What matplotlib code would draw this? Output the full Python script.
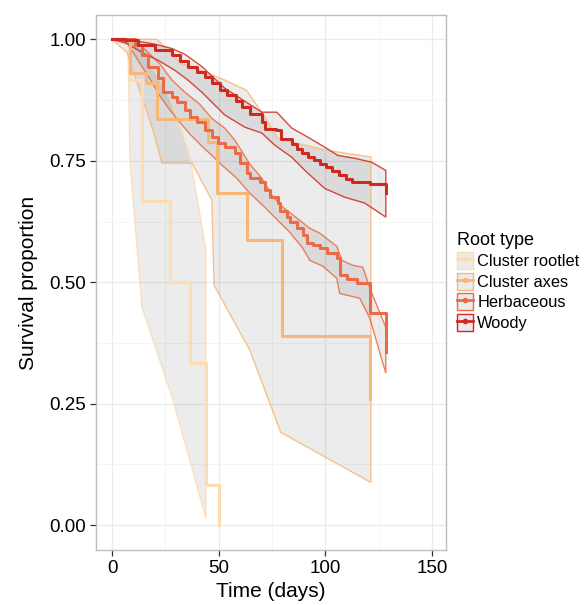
import matplotlib
matplotlib.use("Agg")
import matplotlib.pyplot as plt
from matplotlib.patches import Patch, Polygon
from matplotlib.lines import Line2D

plt.rcParams['font.family'] = ['Liberation Sans', 'DejaVu Sans']

# ---------------- data ----------------
groups = ["Cluster rootlet", "Cluster axes", "Herbaceous", "Woody"]
colors = ["#FDDCB4", "#F7B877", "#EC6A44", "#CF2A1F"]

# Kaplan-Meier estimates
rootlet_t = [0, 8.4, 14.0, 27.2, 36.5, 44.0, 50.1]
rootlet_s = [1.0, 0.917, 0.667, 0.5, 0.333, 0.083, 0.0]
axes_t = [0, 8.4, 15.9, 21.0, 45.0, 49.0, 63.2, 79.6, 121.0]
axes_s = [1.0, 0.93, 0.91, 0.837, 0.788, 0.683, 0.586, 0.389, 0.259]
herb_t = [0, 10.8, 14.0, 16.9, 21.5, 23.9, 28.1, 30.4, 34.2, 36.5, 39.8, 43.5,
          46.8, 49.6, 52.9, 57.6, 59.9, 63.2, 64.6, 69.3, 71.6, 74.0, 77.7, 78.7,
          81.9, 83.3, 86.6, 89.4, 91.3, 94.1, 97.4, 100.7, 105.3, 106.7, 110.0,
          114.7, 120.8, 128.3]
herb_s = [1.0, 0.988, 0.967, 0.942, 0.92, 0.891, 0.881, 0.87, 0.854, 0.84, 0.829,
          0.813, 0.798, 0.786, 0.778, 0.765, 0.745, 0.724, 0.714, 0.706, 0.689,
          0.675, 0.663, 0.646, 0.634, 0.623, 0.611, 0.597, 0.58, 0.576, 0.57,
          0.56, 0.549, 0.514, 0.506, 0.498, 0.436, 0.356]
woody_t = [0, 6.1, 12.2, 20.1, 28.1, 32.0, 35.6, 40.0, 43.5, 47.0, 50.6, 54.0,
           58.1, 61.0, 64.6, 70.2, 71.6, 76.8, 79.1, 84.3, 86.5, 89.0, 92.0, 94.6,
           97.5, 100.2, 103.0, 106.3, 109.5, 112.4, 120.8, 128.3]
woody_s = [1.0, 0.998, 0.988, 0.977, 0.967, 0.955, 0.942, 0.932, 0.922, 0.91,
           0.895, 0.885, 0.874, 0.86, 0.846, 0.829, 0.815, 0.813, 0.794, 0.784,
           0.775, 0.767, 0.758, 0.751, 0.744, 0.737, 0.728, 0.72, 0.713, 0.706,
           0.702, 0.683]

# confidence bands (vertex times, lower, upper)
rootlet_ci_t_up = [0, 8.4, 14.0, 27.2, 36.5, 44.0]
rootlet_ci_up = [1.0, 1.0, 0.98, 0.88, 0.76, 0.566]
rootlet_ci_t_lo = [0, 7.5, 8.4, 14.0, 28.6, 44.0]
rootlet_ci_lo = [1.0, 0.99, 0.75, 0.449, 0.257, 0.014]

axes_ci_t_up = [0, 21.0, 32.6, 45.0, 52.9, 63.0, 70.2, 77.7, 99.7, 121.3]
axes_ci_up = [1.0, 1.0, 0.95, 0.93, 0.916, 0.895, 0.85, 0.796, 0.772, 0.758]
axes_ci_t_lo = [0, 7.0, 19.2, 23.4, 37.5, 46.8, 47.8, 64.6, 79.1, 121.3]
axes_ci_lo = [1.0, 0.973, 0.813, 0.745, 0.745, 0.669, 0.494, 0.36, 0.191, 0.088]

herb_ci_t_up = [0, 10.8, 16.9, 22.5, 28.1, 34.2, 41.2, 46.8, 52.9, 57.6, 64.6,
                70.2, 74.9, 79.6, 84.3, 92.7, 97.4, 105.3, 107.7, 112.8, 117.5,
                120.8, 128.3]
herb_ci_up = [1.0, 0.998, 0.973, 0.949, 0.916, 0.891, 0.866, 0.837, 0.817, 0.792,
              0.743, 0.714, 0.679, 0.656, 0.64, 0.611, 0.601, 0.574, 0.545, 0.535,
              0.531, 0.488, 0.407]
herb_ci_t_lo = [0, 7.5, 14.0, 18.7, 22.5, 27.2, 31.8, 36.5, 42.1, 46.8, 51.5, 58.5,
                64.6, 70.7, 78.7, 83.3, 89.4, 92.7, 98.8, 105.3, 106.7, 116.1,
                120.8, 128.3]
herb_ci_lo = [1.0, 0.99, 0.944, 0.912, 0.883, 0.854, 0.829, 0.805, 0.78, 0.761,
              0.741, 0.714, 0.683, 0.658, 0.623, 0.603, 0.57, 0.545, 0.533, 0.508,
              0.477, 0.467, 0.426, 0.313]

woody_ci_t_up = [0, 12.2, 20.1, 28.1, 34.2, 42.1, 52.9, 70.2, 77.2, 84.3, 90.4,
                 99.7, 105.8, 113.8, 121.7, 128.3]
woody_ci_up = [1.0, 0.996, 0.99, 0.981, 0.969, 0.944, 0.899, 0.85, 0.85, 0.817,
               0.802, 0.778, 0.761, 0.755, 0.747, 0.73]
woody_ci_t_lo = [0, 6.1, 14.0, 21.5, 29.5, 35.6, 42.1, 52.9, 62.3, 70.2, 76.3,
                 84.3, 90.4, 99.7, 109.1, 118.4, 128.3]
woody_ci_lo = [1.0, 0.994, 0.973, 0.957, 0.936, 0.916, 0.891, 0.844, 0.819, 0.807,
               0.782, 0.757, 0.73, 0.693, 0.675, 0.663, 0.634]

x_ticks = [0, 50, 100, 150]
y_ticks = [0.0, 0.25, 0.5, 0.75, 1.0]
y_ticklabels = ["0.00", "0.25", "0.50", "0.75", "1.00"]

# ---------------- figure ----------------
fig = plt.figure(figsize=(5.85, 6.05), dpi=100)
ax = fig.add_axes([96 / 585, 1 - 550 / 605, 350 / 585, 535 / 605])

km = [(rootlet_t, rootlet_s), (axes_t, axes_s), (herb_t, herb_s), (woody_t, woody_s)]
cis = [
    (rootlet_ci_t_up, rootlet_ci_up, rootlet_ci_t_lo, rootlet_ci_lo),
    (axes_ci_t_up, axes_ci_up, axes_ci_t_lo, axes_ci_lo),
    (herb_ci_t_up, herb_ci_up, herb_ci_t_lo, herb_ci_lo),
    (woody_ci_t_up, woody_ci_up, woody_ci_t_lo, woody_ci_lo),
]

for (tu, su, tl, sl), c in zip(cis, colors):
    verts = list(zip(tu, su)) + list(zip(tl[::-1], sl[::-1]))
    ax.add_patch(Polygon(verts, closed=True, facecolor="black", alpha=0.075,
                         edgecolor="none", zorder=2))
    ax.add_patch(Polygon(verts, closed=True, facecolor="none", edgecolor=c,
                         lw=1.0, alpha=0.85, zorder=3))

for (t, s), c in zip(km, colors):
    ax.step(t, s, where="post", color=c, lw=2.2, zorder=4)

ax.set_xlim(-7.5, 156.5)
ax.set_ylim(-0.051, 1.05)
ax.set_xticks(x_ticks)
ax.set_yticks(y_ticks)
ax.set_yticklabels(y_ticklabels)
ax.set_xticks([25, 75, 125], minor=True)
ax.set_yticks([0.125, 0.375, 0.625, 0.875], minor=True)
ax.grid(True, which="major", color="#EBEBEB", lw=0.9, zorder=0)
ax.grid(True, which="minor", color="#F4F4F4", lw=0.6, zorder=0)
ax.set_axisbelow(True)
ax.tick_params(which="major", length=4, width=0.9, color="#333333",
               labelsize=13.5, labelcolor="black", pad=3)
ax.tick_params(which="minor", length=0)
for sp in ax.spines.values():
    sp.set_color("#BDBDBD")
    sp.set_linewidth(1.0)

ax.set_xlabel("Time (days)", fontsize=15, labelpad=4)
ax.set_ylabel("Survival proportion", fontsize=15, labelpad=8)

handles = []
for c in colors:
    p = Patch(facecolor="#EBEBEB", edgecolor=c, lw=1.0)
    l = Line2D([], [], color=c, lw=2.0, marker="o", markersize=3)
    handles.append((p, l))
leg = fig.legend(handles, groups, title="Root type", loc="center left",
                 bbox_to_anchor=(0.778, 0.535), frameon=False, fontsize=11.8,
                 title_fontsize=13, handlelength=1.0, handleheight=1.2,
                 handletextpad=0.25, labelspacing=0.22, borderpad=0.1,
                 borderaxespad=0.0)
leg._legend_box.align = "left"

fig.savefig("out.png", dpi=100)
